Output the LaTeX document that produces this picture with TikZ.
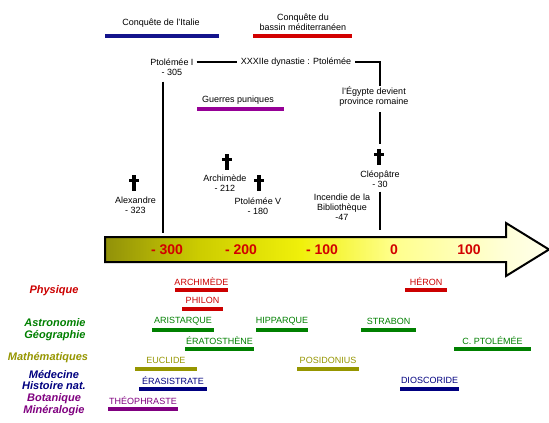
\documentclass[tikz,border=0pt]{standalone}
\usepackage{fontspec}
\setmainfont{Liberation Sans}
\definecolor{topblue}{RGB}{20,20,140}
\definecolor{topred}{RGB}{210,0,0}
\definecolor{toppurple}{RGB}{150,0,150}
\definecolor{yrred}{RGB}{210,0,0}
\definecolor{cred}{RGB}{204,0,0}
\definecolor{cgreen}{RGB}{0,128,0}
\definecolor{colive}{RGB}{150,150,0}
\definecolor{cnavy}{RGB}{0,0,128}
\definecolor{cpurple}{RGB}{128,0,128}
\definecolor{sh1}{RGB}{145,145,10}
\definecolor{sh2}{RGB}{205,205,0}
\definecolor{sh3}{RGB}{240,240,10}
\definecolor{sh4}{RGB}{255,255,140}
\definecolor{sh5}{RGB}{255,255,215}
\definecolor{sh6}{RGB}{255,255,235}
\pgfdeclarehorizontalshading{arrowshade}{100bp}{color(0bp)=(sh1); color(25bp)=(sh1); color(35.7bp)=(sh2); color(47bp)=(sh3); color(57.5bp)=(sh4); color(70bp)=(sh5); color(75bp)=(sh6); color(100bp)=(sh6)}
\tikzset{
  lbl/.style={font=\fontsize{9}{10}\selectfont, inner sep=1pt, align=center},
  conn/.style={line width=2pt, black},
  topbar/.style={line width=3.5pt},
  scibar/.style={line width=3.5pt},
  cat/.style={font=\fontsize{11}{11.5}\selectfont\bfseries\itshape, align=center, inner sep=1pt},
  sci/.style={font=\fontsize{9}{10}\selectfont, inner sep=1pt},
  year/.style={font=\fontsize{14}{14}\selectfont\bfseries, text=yrred, inner sep=1pt},
  crossmark/.pic={\fill (-2,-8) rectangle (2,8); \fill (-5,-4.5) rectangle (5,-1.5);}
}
\newcommand{\scientist}[6]{% name, x1, x2, y, text, color
  \node[sci, text=#6] (#1) at ({(#2+#3)/2},{#4-8.5}) {#5};
  \draw[scibar, #6] (#2,#4) -- (#3,#4);
}
\begin{document}
\begin{tikzpicture}[x=1pt,y=-1pt]
\useasboundingbox (0,0) rectangle (549,423);
\fill[white] (0,0) rectangle (549,423);

% top periods
\node[lbl] (italie) at (161,23) {Conquête de l'Italie};
\draw[topbar, topblue] (105,36) -- (219,36);
\node[lbl] (medit) at (303,22) {Conquête du\\bassin méditerranéen};
\draw[topbar, topred] (253,36) -- (352,36);
\node[lbl] (puniques) at (238,100) {Guerres puniques};
\draw[topbar, toppurple] (197,109) -- (284,109);

% dynasty
\node[lbl] (ptolI) at (172,67) {Ptolémée I\\- 305};
\node[lbl] (dyn) at (296,62) {XXXIIe dynastie : Ptolémée};
\node[lbl] (egypte) at (374,97) {l'Égypte devient\\province romaine};
\coordinate (cleotop) at (380,144);
\coordinate (cleobot) at (380,230);
\coordinate (ptolbot) at (163,233);
\draw[conn] ([xshift=2pt]ptolI.east |- dyn.west) -- ([xshift=-3pt]dyn.west);
\draw[conn] ([xshift=3pt]dyn.east) -| ([xshift=6pt]egypte.north);
\draw[conn] ([xshift=6pt,yshift=-4pt]egypte.south) -- (cleotop);
\draw[conn] ([xshift=-9pt,yshift=-5pt]ptolI.south) -- (ptolbot);

% deaths
\pic at (134,183) {crossmark};
\node[lbl] (alex) at (135.5,205) {Alexandre\\- 323};
\pic at (227,162) {crossmark};
\node[lbl] (archi) at (225,183) {Archimède\\- 212};
\pic at (259,183) {crossmark};
\node[lbl] (ptolV) at (258,206) {Ptolémée V\\- 180};
\pic at (379,157) {crossmark};
\node[lbl] (cleo) at (380,179) {Cléopâtre\\- 30};
\draw[conn] ([yshift=-3pt]cleo.south) -- (cleobot);
\node[lbl] (incendie) at (342,207) {Incendie de la\\Bibliothèque\\-47};

% arrow
\shadedraw[shading=arrowshade, draw=black, line width=2pt]
  (105,237) -- (506,237) -- (506,223) -- (549,249.5) -- (506,276) -- (506,262) -- (105,262) -- cycle;
\node[year] (y300) at (167,250) {- 300};
\node[year] (y200) at (241,250) {- 200};
\node[year] (y100) at (322,250) {- 100};
\node[year] (y0) at (394,250) {0};
\node[year] (yp100) at (469,250) {100};

% categories
\node[cat, text=cred] (physique) at (54,291) {Physique};
\node[cat, text=cgreen] (astro) at (55,329.5) {Astronomie\\Géographie};
\node[cat, text=colive] (math) at (48,358) {Mathématiques};
\node[cat, text=cnavy] (medecine) at (54,380) {Médecine\\Histoire nat.};
\node[cat, text=cpurple] (botanique) at (54,404.5) {Botanique\\Minéralogie};

% scientists
\scientist{archimede}{175}{228}{290}{ARCHIMÈDE}{cred}
\scientist{philon}{182}{223}{309}{PHILON}{cred}
\scientist{heron}{405}{447}{290}{HÉRON}{cred}
\scientist{aristarque}{152}{214}{330}{ARISTARQUE}{cgreen}
\scientist{hipparque}{256}{308}{330}{HIPPARQUE}{cgreen}
\scientist{strabon}{361}{416}{330}{STRABON}{cgreen}
\scientist{eratosthene}{185}{254}{349}{ÉRATOSTHÈNE}{cgreen}
\scientist{cptolemee}{454}{531}{349}{C. PTOLÉMÉE}{cgreen}
\scientist{euclide}{135}{197}{369}{EUCLIDE}{colive}
\scientist{posidonius}{297}{359}{369}{POSIDONIUS}{colive}
\scientist{erasistrate}{139}{207}{389}{ÉRASISTRATE}{cnavy}
\scientist{dioscoride}{400}{459}{389}{DIOSCORIDE}{cnavy}
\scientist{theophraste}{108}{178}{409}{THÉOPHRASTE}{cpurple}
\end{tikzpicture}
\end{document}
